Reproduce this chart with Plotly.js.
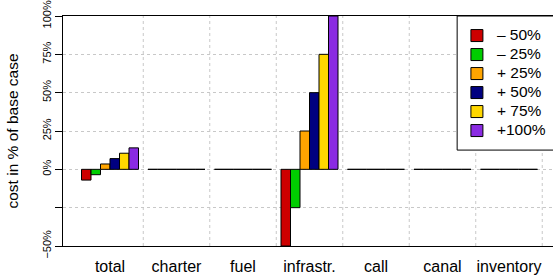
<!DOCTYPE html>
<html>
<head>
<meta charset="utf-8">
<script src="https://cdn.plot.ly/plotly-3.0.1.min.js"></script>
<style>
html,body{margin:0;padding:0;overflow:hidden;background:#fff;}
#chart{width:580px;height:280px;}
</style>
</head>
<body>
<div id="chart"></div>
<script>
// Data
var categories = ["total", "charter", "fuel", "infrastr.", "call", "canal", "inventory"];
var seriesNames = ["\u2013 50%", "\u2013 25%", "+ 25%", "+ 50%", "+ 75%", "+100%"];
var minus50 = [-7, 0, 0, -50, 0, 0, 0];
var minus25 = [-3.5, 0, 0, -25, 0, 0, 0];
var plus25 = [3.5, 0, 0, 25, 0, 0, 0];
var plus50 = [7, 0, 0, 50, 0, 0, 0];
var plus75 = [10.5, 0, 0, 75, 0, 0, 0];
var plus100 = [14, 0, 0, 100, 0, 0, 0];
var yTickVals = [-50, -25, 0, 25, 50, 75, 100];
var yTickText = ["\u221250%", "", "0%", "25%", "50%", "75%", "100%"];

var seriesValues = [minus50, minus25, plus25, plus50, plus75, plus100];
var colors = ["#CD0000", "#00CD00", "#FFA500", "#000080", "#FFD700", "#8A2BE2"];

var traces = seriesValues.map(function (vals, i) {
  return {
    type: "bar",
    name: '<span style="font-size:15.5px">' + seriesNames[i] + '</span>',
    x: categories,
    y: vals,
    marker: { color: colors[i], line: { color: "#000", width: 1 } },
    hoverinfo: "none"
  };
});

var shapes = categories.map(function (c, i) {
  return {
    type: "line", layer: "below", xref: "x", yref: "paper",
    x0: i + 0.5, x1: i + 0.5, y0: 0, y1: 1,
    line: { color: "#c8c8c8", width: 1, dash: "3px,3px" }
  };
});
// legend frame
shapes.push({
  type: "rect", layer: "above", xref: "paper", yref: "paper",
  x0: 0.7995, x1: 1.3, y0: 0.417, y1: 1,
  fillcolor: "#fff", line: { color: "#000", width: 1 }
});

var layout = {
  width: 580, height: 280,
  margin: { l: 63, r: 24, t: 16, b: 34, pad: 0 },
  paper_bgcolor: "#fff", plot_bgcolor: "#fff",
  font: { family: "Liberation Sans, Arial, sans-serif", color: "#000" },
  barmode: "group",
  bargap: 1 / 7,
  bargroupgap: 0,
  showlegend: true,
  legend: {
    x: 0.799, xanchor: "left", y: 0.978, yanchor: "top",
    bgcolor: "rgba(0,0,0,0)", borderwidth: 0,
    font: { size: 12, color: "#000" },
    tracegroupgap: 0
  },
  xaxis: {
    type: "category",
    range: [-0.707, 6.707],
    showgrid: false, zeroline: false,
    showline: true, mirror: true, linecolor: "#000", linewidth: 1,
    ticks: "outside", ticklen: 6, tickcolor: "rgba(0,0,0,0)",
    tickfont: { size: 16, color: "#000" },
    fixedrange: true
  },
  yaxis: {
    range: [-50, 100],
    tickmode: "array", tickvals: yTickVals, ticktext: yTickText,
    tickangle: -90,
    ticks: "outside", ticklen: 7, tickcolor: "#000", tickwidth: 1,
    tickfont: { size: 11, color: "#000" },
    showgrid: true, gridcolor: "#c8c8c8", griddash: "3px,3px", gridwidth: 1,
    zeroline: false,
    showline: true, linecolor: "#000", linewidth: 1,
    title: { text: "cost in % of base case", font: { size: 15.5, color: "#000" }, standoff: 18 },
    automargin: false,
    fixedrange: true
  },
  shapes: shapes
};

Plotly.newPlot("chart", traces, layout, { staticPlot: true, displayModeBar: false });
</script>
</body>
</html>
